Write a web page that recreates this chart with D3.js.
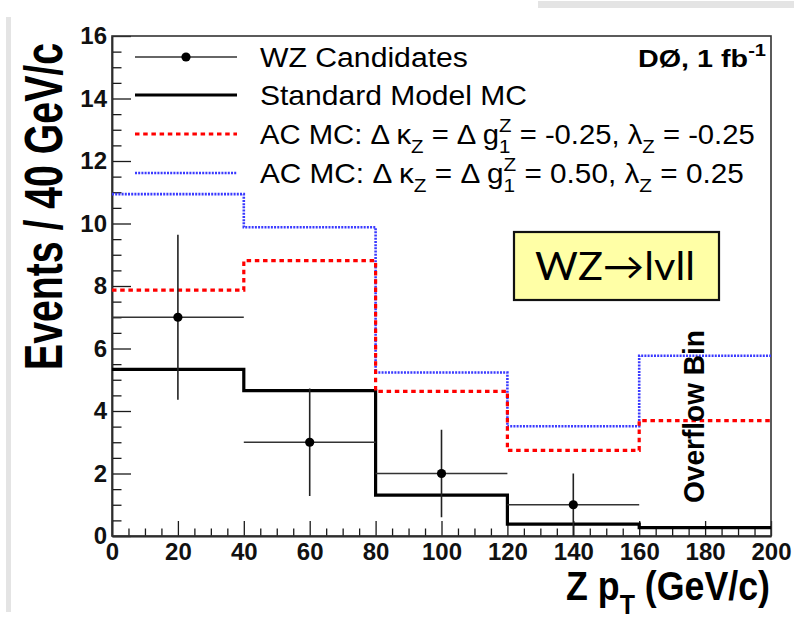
<!DOCTYPE html>
<html><head><meta charset="utf-8">
<script src="https://cdn.jsdelivr.net/npm/d3@7"></script>
<style>body{margin:0;background:#fff;} svg{display:block} text{white-space:pre}</style>
</head><body>
<svg id="c" width="794" height="620"></svg>
<script>
// ---------- data ----------
const binEdges = [0, 40, 80, 120, 160, 200];
const smValues = [5.33, 4.65, 1.31, 0.38, 0.27];
const acNegValues = [7.87, 8.81, 4.63, 2.74, 3.69];
const acPosValues = [10.94, 9.88, 5.23, 3.51, 5.77];
const dataX = [20, 60, 100, 140];
const dataY = [7, 3, 2, 1];
const dataErr = [2.64, 1.72, 1.40, 1.0];
const dataXErr = [20, 20, 20, 20];
const xTicks = [0, 20, 40, 60, 80, 100, 120, 140, 160, 180, 200];
const yTicks = [0, 2, 4, 6, 8, 10, 12, 14, 16];
const legendLabels = [
  "WZ Candidates",
  "Standard Model MC",
  "AC MC: \u0394 \u03BA_{Z} = \u0394 g^{Z}_{1} = -0.25, \u03BB_{Z} = -0.25",
  "AC MC: \u0394 \u03BA_{Z} = \u0394 g^{Z}_{1} = 0.50, \u03BB_{Z} = 0.25"
];
const expLabel = "D\u00D8, 1 fb^{-1}";
const xTitle = "Z p_{T} (GeV/c)";
const yTitle = "Events / 40 GeV/c";
const boxLabel = "WZ\u2192lvll";
const overflowLabel = "Overflow Bin";

// ---------- setup ----------
const W = 794, H = 620;
const FONT = "'Liberation Sans', Arial, Helvetica, sans-serif";
const svg = d3.select('#c');
svg.append('rect').attr('width', W).attr('height', H).attr('fill', '#fff');
// slide decorations
svg.append('rect').attr('x', 6).attr('y', 17).attr('width', 5).attr('height', 595).attr('fill', '#e4e4e4');
svg.append('rect').attr('x', 538).attr('y', 1).attr('width', W - 538).attr('height', 7).attr('fill', '#e4e4e4');

const x = d3.scaleLinear().domain([0, 200]).range([112, 771]);
const y = d3.scaleLinear().domain([0, 16]).range([536, 36]);

// rich text (sub/superscripts)
function rich(t, str, size) {
  t.attr('font-size', size);
  const re = /\^\{([^}]*)\}_\{([^}]*)\}|\^\{([^}]*)\}|_\{([^}]*)\}/g;
  const supOff = -0.44 * size, subOff = 0.34 * size, small = 0.70 * size;
  let cur = 0, last = 0, m, pendDx = 0;
  function seg(s, off, fs) {
    const ts = t.append('tspan').attr('dy', off - cur).attr('font-size', fs).text(s);
    if (pendDx) { ts.attr('dx', pendDx); pendDx = 0; }
    cur = off;
    return ts;
  }
  while ((m = re.exec(str)) !== null) {
    if (m.index > last) seg(str.slice(last, m.index), 0, size);
    if (m[1] !== undefined) {
      const a = seg(m[1], supOff, small);
      const la = a.node().getComputedTextLength();
      const b = t.append('tspan').attr('dx', -la).attr('dy', subOff - cur).attr('font-size', small).text(m[2]);
      cur = subOff;
      const lb = b.node().getComputedTextLength();
      pendDx = Math.max(0, la - lb);
    } else if (m[3] !== undefined) {
      seg(m[3], supOff, small);
    } else {
      seg(m[4], subOff, small);
    }
    last = re.lastIndex;
  }
  if (last < str.length) seg(str.slice(last), 0, size);
  return t;
}
// place text with horizontal fit
function place(t, px, py, targetW, sy, rot) {
  const bw = t.node().getBBox().width;
  const s = targetW ? targetW / bw : 1;
  if (rot) t.attr('transform', `translate(${px},${py}) rotate(-90) scale(${s},${sy || 1})`);
  else t.attr('transform', `translate(${px},${py}) scale(${s},${sy || 1})`);
}

// ---------- axes ----------
const axisColor = '#1a1a1a';
const yMinor = d3.range(0, 16.001, 0.5).filter(v => yTicks.indexOf(v) < 0);
const xMinor = d3.range(0, 200.001, 5).filter(v => xTicks.indexOf(v) < 0);

svg.append('g').attr('transform', `translate(${x(0)},0)`)
  .call(d3.axisLeft(y).tickValues(yMinor).tickSizeInner(-9.5).tickSizeOuter(0).tickFormat(''))
  .call(g => g.select('.domain').remove());
svg.append('g').attr('transform', `translate(0,${y(0)})`)
  .call(d3.axisBottom(x).tickValues(xMinor).tickSizeInner(-7.5).tickSizeOuter(0).tickFormat(''))
  .call(g => g.select('.domain').remove());

const gy = svg.append('g').attr('transform', `translate(${x(0)},0)`)
  .call(d3.axisLeft(y).tickValues(yTicks).tickSizeInner(-19).tickSizeOuter(0).tickPadding(5).tickFormat(d3.format('d')));
const gx = svg.append('g').attr('transform', `translate(0,${y(0)})`)
  .call(d3.axisBottom(x).tickValues(xTicks).tickSizeInner(-15).tickSizeOuter(0).tickPadding(7).tickFormat(d3.format('d')));

svg.selectAll('.tick line').attr('stroke', axisColor).attr('stroke-width', 1.3);
[gx, gy].forEach(g => {
  g.select('.domain').attr('stroke', axisColor).attr('stroke-width', 1.8);
  g.selectAll('text').attr('font-family', FONT).attr('font-weight', 'bold').attr('font-size', 24).attr('fill', '#111');
});

// frame
svg.append('rect').attr('x', x(0)).attr('y', y(16)).attr('width', x(200) - x(0)).attr('height', y(0) - y(16))
  .attr('fill', 'none').attr('stroke', '#333').attr('stroke-width', 1.6);

// ---------- histograms ----------
const line = d3.line().x(d => x(d[0])).y(d => y(d[1])).curve(d3.curveStepAfter);
function histPts(vals) {
  const p = vals.map((v, i) => [binEdges[i], v]);
  p.push([binEdges[binEdges.length - 1], vals[vals.length - 1]]);
  return p;
}
const styles = {
  sm: { stroke: '#000', width: 3.2, dash: null },
  pos: { stroke: '#3a3aff', width: 2.6, dash: '2,1.2' },
  neg: { stroke: '#ff0000', width: 3.2, dash: '4.5,3.7' }
};
function drawHist(vals, st) {
  svg.append('path').attr('d', line(histPts(vals))).attr('fill', 'none')
    .attr('stroke', st.stroke).attr('stroke-width', st.width)
    .attr('stroke-dasharray', st.dash).attr('stroke-linejoin', 'miter');
}
drawHist(smValues, styles.sm);
drawHist(acPosValues, styles.pos);
drawHist(acNegValues, styles.neg);

// ---------- data points ----------
const gd = svg.append('g');
dataX.forEach((xv, i) => {
  gd.append('line').attr('x1', x(xv - dataXErr[i])).attr('x2', x(xv + dataXErr[i]))
    .attr('y1', y(dataY[i])).attr('y2', y(dataY[i])).attr('stroke', '#333').attr('stroke-width', 1.6);
  gd.append('line').attr('x1', x(xv)).attr('x2', x(xv))
    .attr('y1', y(dataY[i] - dataErr[i])).attr('y2', y(dataY[i] + dataErr[i])).attr('stroke', '#222').attr('stroke-width', 1.6);
  gd.append('circle').attr('cx', x(xv)).attr('cy', y(dataY[i])).attr('r', 4.6).attr('fill', '#000');
});

// ---------- legend ----------
const legRows = [57, 95, 134, 173];
const legWidths = [208, 267, 495, 484];
const lx1 = 135, lx2 = 237, ltx = 260;
const gl = svg.append('g');
gl.append('line').attr('x1', lx1).attr('x2', lx2).attr('y1', legRows[0]).attr('y2', legRows[0]).attr('stroke', '#333').attr('stroke-width', 1.6);
gl.append('circle').attr('cx', (lx1 + lx2) / 2).attr('cy', legRows[0]).attr('r', 4.6).attr('fill', '#000');
[styles.sm, styles.neg, styles.pos].forEach((st, k) => {
  gl.append('line').attr('x1', lx1).attr('x2', lx2).attr('y1', legRows[k + 1]).attr('y2', legRows[k + 1])
    .attr('stroke', st.stroke).attr('stroke-width', st.width).attr('stroke-dasharray', st.dash);
});
legendLabels.forEach((lab, i) => {
  const t = gl.append('text').attr('font-family', FONT).attr('fill', '#000');
  rich(t, lab, 27);
  place(t, ltx, legRows[i] + 10, legWidths[i], 1);
});

// experiment label
const te = svg.append('text').attr('font-family', FONT).attr('font-weight', 'bold').attr('text-anchor', 'end').attr('fill', '#000');
rich(te, expLabel, 24);
place(te, 766, 67, 128, 1);

// ---------- titles ----------
const tx = svg.append('text').attr('font-family', FONT).attr('font-weight', 'bold').attr('text-anchor', 'end').attr('fill', '#000');
rich(tx, xTitle, 40);
place(tx, 770, 600, 204, 1);

const ty = svg.append('text').attr('font-family', FONT).attr('font-weight', 'bold').attr('text-anchor', 'end').attr('fill', '#000');
rich(ty, yTitle, 54);
place(ty, 62, 43, 327, 1, true);

// overflow label
const to = svg.append('text').attr('font-family', FONT).attr('font-weight', 'bold').attr('text-anchor', 'start').attr('fill', '#000');
rich(to, overflowLabel, 29);
place(to, 704, 503, 173, 1, true);

// yellow box
svg.append('rect').attr('x', 514).attr('y', 232).attr('width', 205).attr('height', 68)
  .attr('fill', '#ffffa6').attr('stroke', '#111').attr('stroke-width', 2.2);
const tb = svg.append('text').attr('font-family', "Lato, 'Open Sans', 'Noto Sans', 'DejaVu Sans', sans-serif").attr('fill', '#000');
rich(tb, boxLabel, 38);
place(tb, 535, 280, 160, 1);
</script>
</body></html>
